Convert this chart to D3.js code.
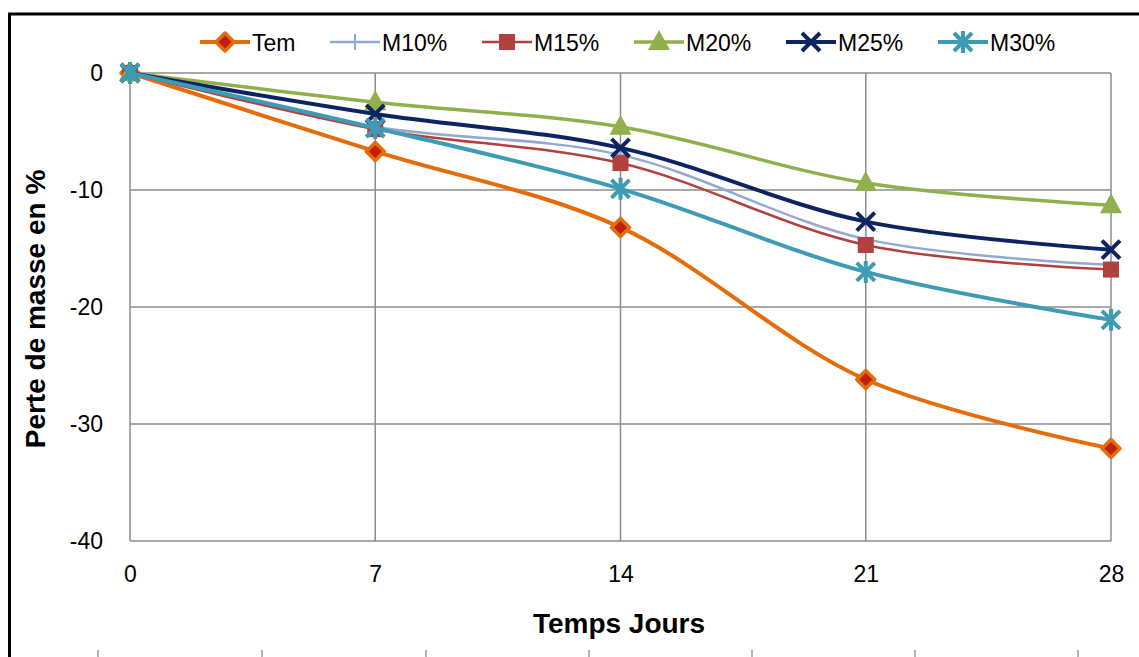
<!DOCTYPE html>
<html>
<head>
<meta charset="utf-8">
<script src="https://cdn.jsdelivr.net/npm/d3@7"></script>
<style>
  body { margin: 0; background: #fff; }
  svg { display: block; font-family: "Liberation Sans", Arial, sans-serif; }
</style>
</head>
<body>
<div id="chart"></div>
<script>
// data
var days = [0, 7, 14, 21, 28];
var yTicks = [0, -10, -20, -30, -40];
var seriesNames = ["Tem", "M10%", "M15%", "M20%", "M25%", "M30%"];
var tem = [0, -6.7, -13.2, -26.2, -32.1];
var m10 = [0, -4.6, -7.0, -14.2, -16.4];
var m15 = [0, -4.8, -7.7, -14.7, -16.8];
var m20 = [0, -2.5, -4.6, -9.4, -11.3];
var m25 = [0, -3.5, -6.4, -12.7, -15.1];
var m30 = [0, -4.7, -9.9, -17.0, -21.1];

var width = 1139, height = 657;
var plotLeft = 130, plotRight = 1111, plotTop = 73, plotBottom = 541;

var styles = {
    "Tem":  {color: "#E46C0A", width: 4,   marker: "diamond"},
    "M10%": {color: "#94A8D2", width: 2.5, marker: "plus"},
    "M15%": {color: "#B0413E", width: 2.5, marker: "square"},
    "M20%": {color: "#8FB04C", width: 3.5, marker: "triangle"},
    "M25%": {color: "#0E2462", width: 4,   marker: "cross"},
    "M30%": {color: "#3E9BB4", width: 4,   marker: "star"}
};
var values = [tem, m10, m15, m20, m25, m30];

var svg = d3.select("#chart").append("svg")
    .attr("width", width)
    .attr("height", height);

// outer frame
svg.append("path")
    .attr("d", "M9.5," + height + "V14H" + width)
    .attr("fill", "none")
    .attr("stroke", "#000")
    .attr("stroke-width", 3);

// small ticks at the bottom edge
[98, 262, 426, 589, 752, 915, 1078].forEach(function (x) {
    svg.append("line").attr("x1", x).attr("x2", x).attr("y1", 650).attr("y2", height)
        .attr("stroke", "#9a9a9a").attr("stroke-width", 1.5);
});

var x = d3.scaleLinear().domain([0, 28]).range([plotLeft, plotRight]);
var y = d3.scaleLinear().domain([-40, 0]).range([plotBottom, plotTop]);

// grid
var grid = svg.append("g").attr("stroke", "#8c8c8c").attr("stroke-width", 1.5);
grid.selectAll(".h").data(yTicks).enter().append("line")
    .attr("x1", plotLeft).attr("x2", plotRight)
    .attr("y1", function (d) { return y(d); })
    .attr("y2", function (d) { return y(d); });
grid.selectAll(".v").data(days).enter().append("line")
    .attr("x1", function (d) { return x(d); })
    .attr("x2", function (d) { return x(d); })
    .attr("y1", plotTop).attr("y2", plotBottom);

// axes labels
var yAxis = d3.axisLeft(y).tickValues(yTicks).tickSize(0).tickPadding(27)
    .tickFormat(function (d) { return String(d); });
svg.append("g").attr("transform", "translate(" + plotLeft + ",0)").call(yAxis)
    .attr("font-size", 23).attr("font-family", null)
    .call(function (g) { g.select(".domain").remove(); })
    .selectAll("text").attr("fill", "#000");

var xAxis = d3.axisBottom(x).tickValues(days).tickSize(0).tickPadding(25)
    .tickFormat(function (d) { return String(d); });
svg.append("g").attr("transform", "translate(0," + plotBottom + ")").call(xAxis)
    .attr("font-size", 23).attr("font-family", null)
    .call(function (g) { g.select(".domain").remove(); })
    .selectAll("text").attr("fill", "#000");

svg.append("text")
    .attr("x", 619).attr("y", 633)
    .attr("text-anchor", "middle")
    .attr("font-size", 28).attr("font-weight", "bold")
    .text("Temps Jours");

svg.append("text")
    .attr("transform", "translate(45,309) rotate(-90)")
    .attr("text-anchor", "middle")
    .attr("font-size", 28).attr("font-weight", "bold")
    .text("Perte de masse en %");

function drawMarker(g, type, color, cx, cy) {
    if (type === "diamond") {
        g.append("path")
            .attr("d", "M" + cx + "," + (cy - 9) + "L" + (cx + 9) + "," + cy + "L" + cx + "," + (cy + 9) + "L" + (cx - 9) + "," + cy + "Z")
            .attr("fill", "#C0200A").attr("stroke", color).attr("stroke-width", 3.5)
            .attr("stroke-linejoin", "round");
    } else if (type === "square") {
        g.append("rect").attr("x", cx - 8).attr("y", cy - 8).attr("width", 16).attr("height", 16)
            .attr("fill", color);
    } else if (type === "triangle") {
        g.append("path")
            .attr("d", "M" + cx + "," + (cy - 12) + "L" + (cx + 11) + "," + (cy + 8) + "L" + (cx - 11) + "," + (cy + 8) + "Z")
            .attr("fill", color);
    } else if (type === "plus") {
        g.append("path")
            .attr("d", "M" + (cx - 8) + "," + cy + "H" + (cx + 8) + "M" + cx + "," + (cy - 8) + "V" + (cy + 8))
            .attr("stroke", color).attr("stroke-width", 2);
    } else if (type === "cross") {
        g.append("path")
            .attr("d", "M" + (cx - 9) + "," + (cy - 9) + "L" + (cx + 9) + "," + (cy + 9) + "M" + (cx + 9) + "," + (cy - 9) + "L" + (cx - 9) + "," + (cy + 9))
            .attr("stroke", color).attr("stroke-width", 4);
    } else if (type === "star") {
        g.append("path")
            .attr("d", "M" + (cx - 9) + "," + (cy - 9) + "L" + (cx + 9) + "," + (cy + 9) + "M" + (cx + 9) + "," + (cy - 9) + "L" + (cx - 9) + "," + (cy + 9) + "M" + cx + "," + (cy - 11) + "V" + (cy + 11))
            .attr("stroke", color).attr("stroke-width", 4);
    }
}

var line = d3.line()
    .x(function (d, i) { return x(days[i]); })
    .y(function (d) { return y(d); })
    .curve(d3.curveCatmullRom.alpha(0.5));

seriesNames.forEach(function (name, k) {
    var st = styles[name];
    var g = svg.append("g");
    g.append("path")
        .datum(values[k])
        .attr("d", line)
        .attr("fill", "none")
        .attr("stroke", st.color)
        .attr("stroke-width", st.width)
        .attr("stroke-linecap", "round");
    values[k].forEach(function (v, i) {
        drawMarker(g, st.marker, st.color, x(days[i]), y(v));
    });
});

// legend
var legendX = [200, 330, 482, 634, 786, 938];
seriesNames.forEach(function (name, k) {
    var st = styles[name];
    var g = svg.append("g");
    var lx = legendX[k];
    g.append("line").attr("x1", lx).attr("x2", lx + 50).attr("y1", 42).attr("y2", 42)
        .attr("stroke", st.color).attr("stroke-width", st.width);
    drawMarker(g, st.marker, st.color, lx + 25, 42);
    g.append("text").attr("x", lx + 52).attr("y", 51)
        .attr("font-size", 23).attr("fill", "#000")
        .text(name);
});
</script>
</body>
</html>
